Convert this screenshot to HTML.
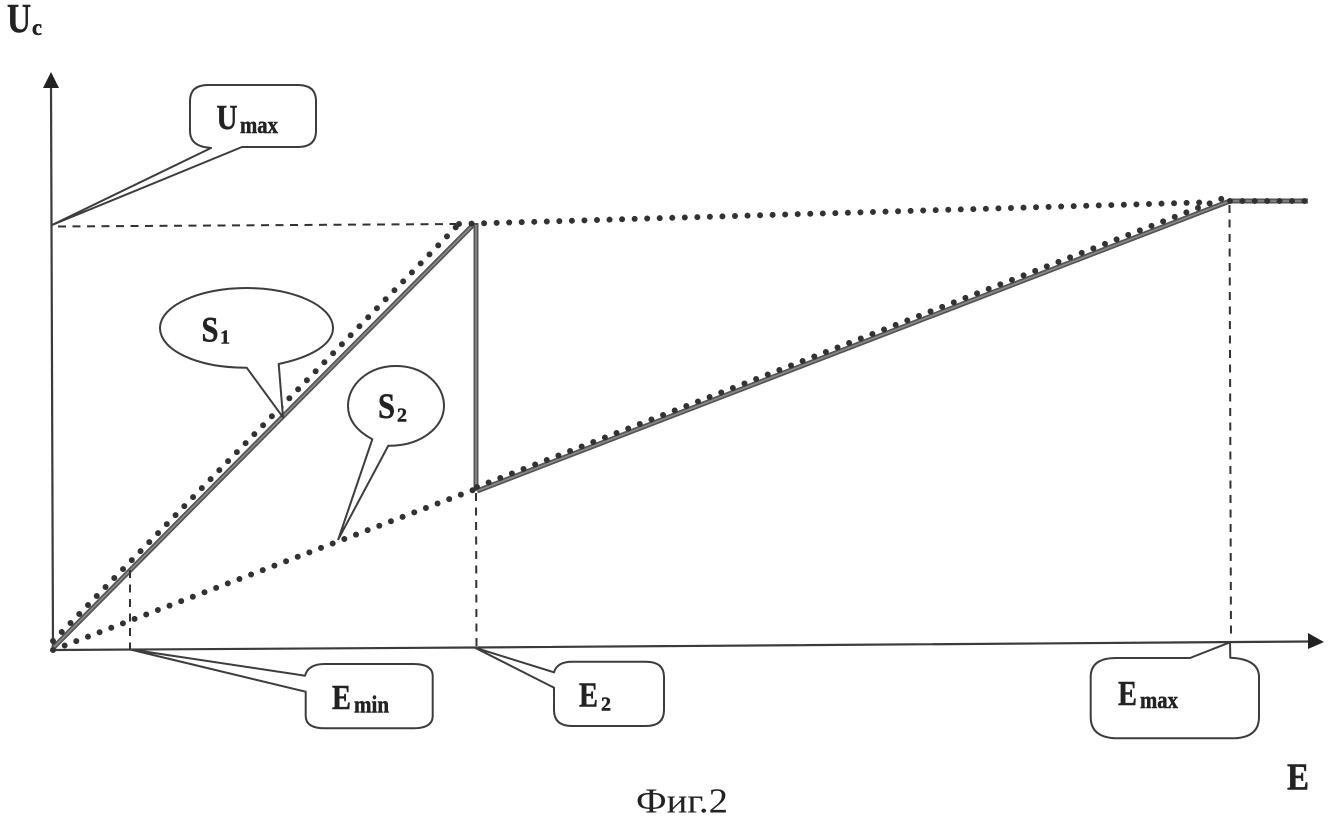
<!DOCTYPE html>
<html>
<head>
<meta charset="utf-8">
<style>
html,body{margin:0;padding:0;background:#fff;width:1328px;height:822px;overflow:hidden}
svg{display:block}
text{font-family:"Liberation Serif",serif;fill:#222}
.b{font-weight:bold;stroke:#222;stroke-width:.45}
</style>
</head>
<body>
<svg width="1328" height="822" viewBox="0 0 1328 822" xmlns="http://www.w3.org/2000/svg">
<defs><filter id="soft" x="0" y="0" width="100%" height="100%"><feGaussianBlur stdDeviation="0.35"/></filter></defs>
<rect width="1328" height="822" fill="#fff"/>
<g filter="url(#soft)">

<!-- dashed guides -->
<g fill="none" stroke="#333" stroke-width="2" stroke-dasharray="8 6.5">
<path d="M58 226.5L456 224"/>
<path d="M476 493L476.5 646"/>
<path d="M1229.5 205L1231 640"/>
</g>

<!-- axes -->
<g fill="none" stroke="#3a3a3a" stroke-width="2.2">
<path d="M53 650L51 84"/>
<path d="M53 650L475 647.5L1310 641.5"/>
</g>
<path d="M51 72L59 88H43Z" fill="#222"/>
<path d="M1324 642L1308 633V649Z" fill="#222"/>

<!-- solid curve -->
<g fill="none" stroke="#555" stroke-width="5" stroke-linejoin="miter">
<path d="M53 648L473 225"/>
<path d="M476 223V491"/>
<path d="M477 491L1230 201H1308"/>
</g>
<g fill="none" stroke="#8a8a8a" stroke-width="1.6">
<path d="M53 648L473 225"/>
<path d="M476 225V490"/>
<path d="M477 491L1230 201H1308"/>
</g>

<!-- dotted curves -->
<g fill="none" stroke="#333" stroke-width="6" stroke-linecap="round" stroke-dasharray="0 12.55">
<path d="M53 641L459 224"/>
<path d="M459 224L1210 202.2"/>
</g>
<g fill="none" stroke="#333" stroke-width="6" stroke-linecap="round" stroke-dasharray="0 12.47">
<path d="M53 650L477 488.5"/>
<path d="M477 487L1222 198.6"/>
</g>
<path d="M1230 201H1316" fill="none" stroke="#333" stroke-width="6" stroke-linecap="round" stroke-dasharray="0 12.4"/>

<!-- callouts -->
<g fill="#fff" stroke="#3c3c3c" stroke-width="2" stroke-linejoin="round">
<path d="M211 148L52 225L242 147H298Q316 147 316 131V101Q316 85 298 85H208Q190 85 190 101V131Q190 144 204 147Z"/>
<path d="M278.7 364C312 357 333 344 333 328C333 306 294 288 246.5 288C199 288 160 306 160 328C160 350 197 368 246.7 367.7L283 417.3Z"/>
<path d="M372.3 439.3C357 431 348 420 348 406C348 384 369 366 396 366C423 366 444 384 444 406C444 428 420 446 388.3 445.7L338.3 539.3Z"/>
<path d="M305 675.7L129.3 649.3L305.7 691.7V716Q305.7 728.3 325 728.3H413Q432.7 728.3 432.7 716V676Q432.7 664 413 664H325Q308 664 305 675.7Z"/>
<path d="M554 672.3L475 647.7L554 687.7V710Q554 726 572 726H646Q664 726 664 710V677Q664 661.7 646 661.7H572Q557 661.7 554 672.3Z"/>
<path d="M1190 658L1230 642.3L1230.3 657.7Q1259 659 1259 677V717Q1259 738.3 1232 738.3H1118Q1090.7 738.3 1090.7 717V677Q1090.7 658 1116 658Z"/>
</g>
<path d="M130 570V649" stroke="#333" stroke-width="2" stroke-dasharray="8 6.5" fill="none"/>

<!-- labels -->
<text transform="translate(7 32) scale(1 1.15)" font-size="36" class="b" textLength="24" lengthAdjust="spacingAndGlyphs">U</text>
<text x="32" y="35" font-size="23" class="b" textLength="10" lengthAdjust="spacingAndGlyphs">c</text>

<text transform="translate(216.5 129) scale(1 1.15)" font-size="30" class="b" textLength="21" lengthAdjust="spacingAndGlyphs">U</text>
<text transform="translate(240 133) scale(1 1.15)" font-size="21" class="b" textLength="38" lengthAdjust="spacingAndGlyphs">max</text>

<text transform="translate(201.5 341.5) scale(1 1.15)" font-size="31" class="b" textLength="17" lengthAdjust="spacingAndGlyphs">S</text>
<text x="220" y="343.5" font-size="20" class="b">1</text>

<text transform="translate(378 418) scale(1 1.15)" font-size="31" class="b" textLength="17" lengthAdjust="spacingAndGlyphs">S</text>
<text x="397" y="421.5" font-size="20" class="b">2</text>

<text transform="translate(332 709) scale(1 1.15)" font-size="30" class="b" textLength="19" lengthAdjust="spacingAndGlyphs">E</text>
<text transform="translate(354 712.5) scale(1 1.15)" font-size="21" class="b" textLength="35" lengthAdjust="spacingAndGlyphs">min</text>

<text transform="translate(579 706.5) scale(1 1.15)" font-size="30" class="b" textLength="19" lengthAdjust="spacingAndGlyphs">E</text>
<text x="601" y="710.5" font-size="20" class="b">2</text>

<text transform="translate(1118 705) scale(1 1.15)" font-size="30" class="b" textLength="19" lengthAdjust="spacingAndGlyphs">E</text>
<text transform="translate(1140 708) scale(1 1.15)" font-size="21" class="b" textLength="38" lengthAdjust="spacingAndGlyphs">max</text>

<text transform="translate(1287 789.5) scale(1 1.15)" font-size="33" class="b" textLength="22" lengthAdjust="spacingAndGlyphs">E</text>
<text x="636" y="812.5" font-size="35" textLength="92" lengthAdjust="spacingAndGlyphs" fill="#333">Фиг.2</text>
</g>
</svg>
</body>
</html>
